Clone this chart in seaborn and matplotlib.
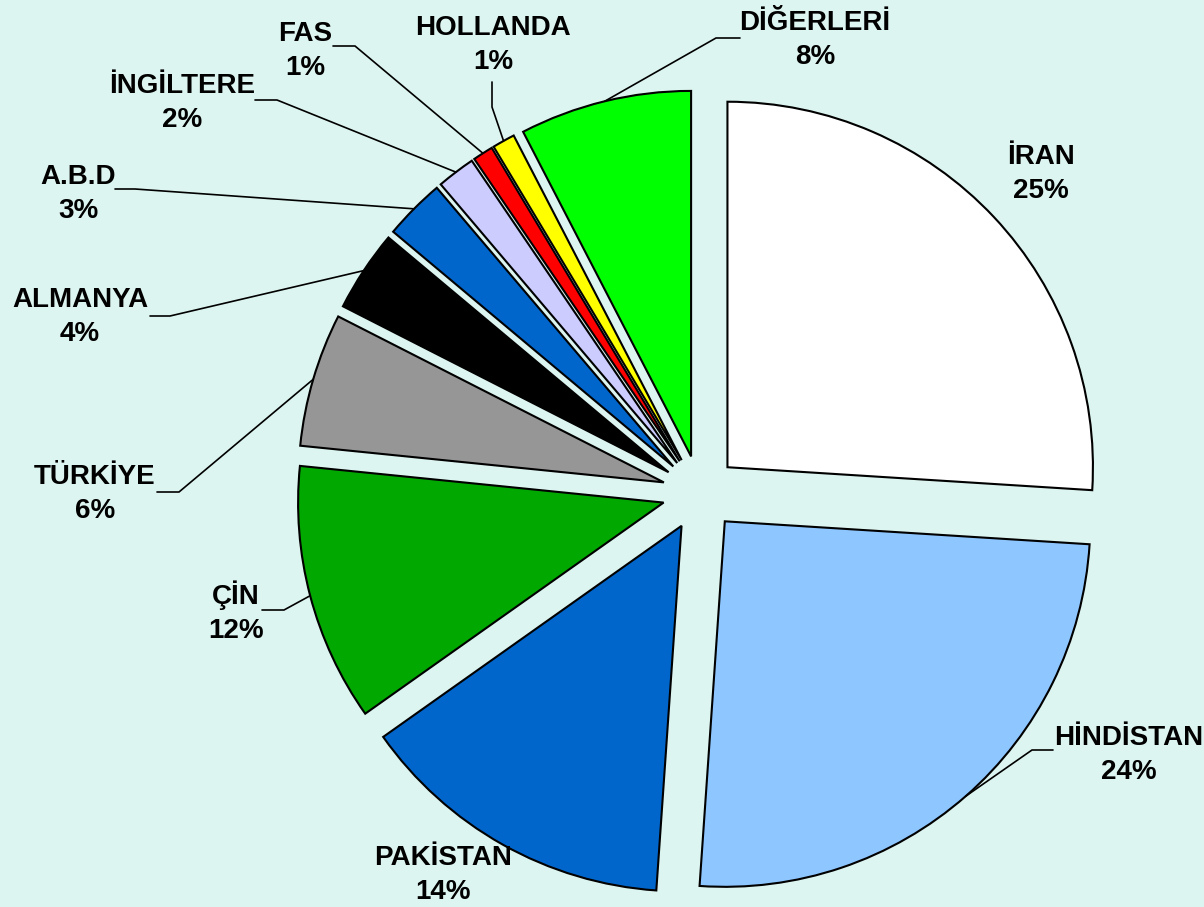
import matplotlib
matplotlib.use("Agg")
import matplotlib.pyplot as plt
import seaborn as sns
import numpy as np

# ---- data ----
countries = ["İRAN", "HİNDİSTAN", "PAKİSTAN", "ÇİN", "TÜRKİYE", "ALMANYA",
             "A.B.D", "İNGİLTERE", "FAS", "HOLLANDA", "DİĞERLERİ"]
shares = [26.0, 25.1, 14.1, 11.4, 5.9, 3.6, 2.7, 1.7, 0.9, 1.0, 7.6]
pct_labels = ["25%", "24%", "14%", "12%", "6%", "4%", "3%", "2%", "1%", "1%", "8%"]
colors = ["#FFFFFF", "#8EC6FF", "#0066CC", "#00A800", "#969696", "#000000",
          "#0066CC", "#CCCCFF", "#FF0000", "#FFFF00", "#00FF00"]

BG = "#DDF5F0"
sns.set_theme(style="white")
plt.rcParams["font.family"] = ["Liberation Sans", "DejaVu Sans"]

W, H = 1204, 907
CX, CY, R = 700.0, 493.0, 365.5

def px(x, y):
    return ((x - CX) / R, (CY - y) / R)

fig = plt.figure(figsize=(W / 100, H / 100), dpi=100, facecolor=BG)
ax = fig.add_axes([0, 0, 1, 1])
ax.set_facecolor(BG)

wedges, _ = ax.pie(shares, startangle=90, counterclock=False,
                   explode=[0.103] * len(shares), colors=colors, radius=1.0,
                   wedgeprops=dict(edgecolor="black", linewidth=1.5))

x0, _ = px(0, 0)
x1, _ = px(W, 0)
_, y0 = px(0, H)
_, y1 = px(0, 0)
ax.set_xlim(x0, x1)
ax.set_ylim(y0, y1)
ax.set_aspect("auto")
ax.axis("off")

# label layout (pixel positions): text centre, and leader polyline from text side
layout = {
    "İRAN": dict(text=(1041, 174), leader=None),
    "HİNDİSTAN": dict(text=(1129, 755), leader=[(1053, 750), (1032, 750)]),
    "PAKİSTAN": dict(text=(443, 875), leader=None),
    "ÇİN": dict(text=(236, 612), leader=[(262, 610), (284, 610)]),
    "TÜRKİYE": dict(text=(95, 494), leader=[(157, 492), (179, 492)]),
    "ALMANYA": dict(text=(80, 317), leader=[(150, 316), (170, 316)]),
    "A.B.D": dict(text=(78, 194), leader=[(115, 189), (135, 189)]),
    "İNGİLTERE": dict(text=(182, 103), leader=[(255, 100), (277, 100)]),
    "FAS": dict(text=(305, 51), leader=[(333, 46), (355, 46)]),
    "HOLLANDA": dict(text=(493, 45), leader=[(492, 82), (492, 107)]),
    "DİĞERLERİ": dict(text=(815, 40), leader=[(740, 38), (716, 38)]),
}

for w, name, pl in zip(wedges, countries, pct_labels):
    lay = layout[name]
    tx, ty = px(*lay["text"])
    ax.text(tx, ty, f"{name}\n{pl}", ha="center", va="center",
            fontsize=20, fontweight="bold", color="black", linespacing=1.4)
    if lay["leader"] is not None:
        mid = np.deg2rad((w.theta1 + w.theta2) / 2)
        cx, cy = w.center
        ax_, ay_ = cx + w.r * np.cos(mid), cy + w.r * np.sin(mid)
        pts = [px(*p) for p in lay["leader"]] + [(ax_, ay_)]
        xs, ys = zip(*pts)
        ax.plot(xs, ys, color="black", linewidth=1.2, solid_joinstyle="miter")

fig.savefig("out.png", dpi=100, facecolor=BG)
